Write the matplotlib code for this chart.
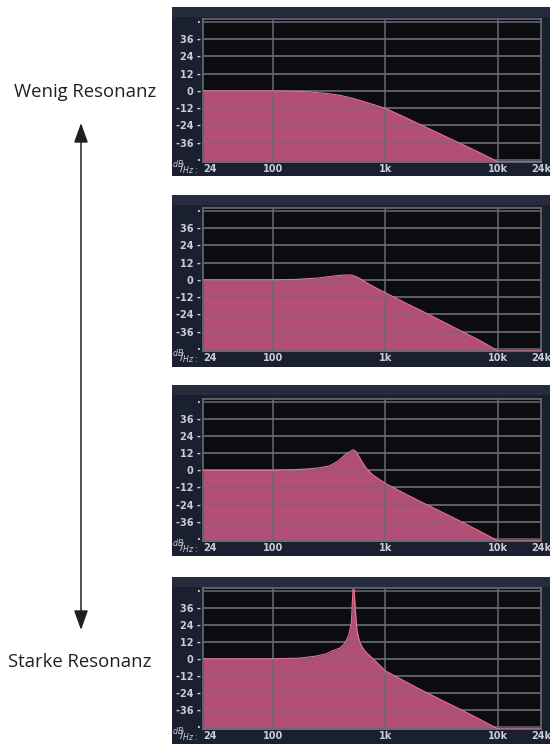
import matplotlib
matplotlib.use("Agg")
import matplotlib.pyplot as plt
import matplotlib.patches as mpatches
import numpy as np

W, H = 552, 744

# ---- data (Hz, dB) ----
freq_1 = [24, 100, 150, 200, 300, 400, 500, 600, 800, 1000, 1500, 2000, 3000, 5000, 7000, 10000, 24000]
gain_1 = [0, 0, -0.2, -0.6, -1.8, -3.2, -5.0, -6.8, -9.8, -12.2, -18.5, -23.2, -29.7, -37.9, -43.3, -49.5, -49.5]

freq_2 = [24, 100, 160, 200, 250, 300, 370, 430, 500, 550, 600, 700, 850, 1000, 1500, 2000, 3000, 5000, 7000, 10000, 24000]
gain_2 = [0, 0, 0.3, 0.8, 1.2, 2.0, 2.9, 3.4, 3.3, 2.2, 0.6, -2.6, -6.2, -9.0, -16.0, -20.8, -27.8, -36.7, -42.5, -49.5, -49.5]

freq_3 = [24, 100, 141, 200, 260, 320, 379, 433, 498, 515, 550, 609, 675, 770, 1000, 1500, 2000, 3000, 5000, 7000, 10000, 24000]
gain_3 = [0, 0, 0.4, 0.9, 1.8, 3.2, 6.5, 10.6, 13.8, 14.5, 13.0, 6.9, 1.4, -3.2, -9.2, -16.5, -21.5, -28.3, -37.0, -43.0, -49.5, -49.5]

freq_4 = [24, 100, 140, 173, 244, 300, 340, 392, 430, 449, 470, 482, 498, 507, 515, 527, 535, 543, 558, 589, 630, 675, 740, 825,
          1000, 1500, 2000, 3000, 5000, 7000, 10000, 24000]
gain_4 = [0, 0, 0.3, 0.5, 2.0, 3.6, 5.8, 7.5, 10.5, 13.0, 16.5, 20.0, 26.0, 39.0, 49.0, 49.0, 40.0, 32.0, 20.0, 12.0, 7.5, 4.5, 1.5, -2.0,
          -8.5, -16.0, -21.3, -28.3, -37.0, -43.0, -49.5, -49.5]

y_ticks = [48, 36, 24, 12, 0, -12, -24, -36, -48]
y_labels = ["·", "36 -", "24 -", "12 -", "0 -", "-12 -", "-24 -", "-36 -", "·"]
x_ticks = [24, 100, 1000, 10000, 24000]
x_labels = ["24", "100", "1k", "10k", "24k"]

curves = [(freq_1, gain_1), (freq_2, gain_2), (freq_3, gain_3), (freq_4, gain_4)]

# panel geometry in pixels: outer top, plot top, plot bottom, outer bottom
panels = [(7, 19, 162, 176), (195, 208, 351, 367), (385, 399, 541, 556), (577, 588, 729, 746)]

OUTER = "#1b2030"
BAND = "#272c3c"
PLOT_BG = "#0b0b10"
GRID = "#676b74"
FILL = "#b24f76"
EDGE = "#e8728f"
TXT = "#c9cdd5"

fig = plt.figure(figsize=(W / 100, H / 100), dpi=100)
fig.patch.set_facecolor("white")

def box(x0, y0, x1, y1):
    return [x0 / W, 1 - y1 / H, (x1 - x0) / W, (y1 - y0) / H]

for (f, g), (ot, pt, pb, ob) in zip(curves, panels):
    # outer dark frame and lighter band on top
    fig.add_artist(mpatches.Rectangle((172 / W, 1 - ob / H), (550 - 172) / W, (ob - ot) / H,
                                      transform=fig.transFigure, facecolor=OUTER, edgecolor="none",
                                      zorder=-2))
    fig.add_artist(mpatches.Rectangle((172 / W, 1 - (ot + 10) / H), (550 - 172) / W, 10 / H,
                                      transform=fig.transFigure, facecolor=BAND, edgecolor="none",
                                      zorder=-1))

    ax = fig.add_axes(box(203, pt, 541, pb))
    ax.set_facecolor(PLOT_BG)
    ax.set_xscale("log")
    ax.set_xlim(24, 24000)
    ax.set_ylim(-49.5, 50)
    ax.fill_between(f, g, -60, color=FILL, linewidth=0, zorder=2)
    ax.plot(f, g, color=EDGE, linewidth=0.8, zorder=3)

    for yv in y_ticks:
        ax.axhline(yv, color=GRID, linewidth=1.1, zorder=1)
    for xv in [100, 1000, 10000]:
        ax.axvline(xv, color=GRID, linewidth=1.1, zorder=2.5)
    for yv in y_ticks[1:-1]:
        ax.axhline(yv, color=GRID, linewidth=1.1, alpha=0.55, zorder=2.5)

    for sp in ax.spines.values():
        sp.set_color(GRID)
        sp.set_linewidth(1.2)

    ax.set_yticks(y_ticks)
    ax.set_yticklabels(y_labels)
    ax.set_xticks(x_ticks)
    ax.set_xticklabels(x_labels)
    ax.minorticks_off()
    ax.tick_params(length=0, colors=TXT, labelsize=7, pad=1.5)
    for lab in ax.get_xticklabels() + ax.get_yticklabels():
        lab.set_fontweight("bold")
    ax.get_xticklabels()[0].set_horizontalalignment("left")

    fig.text(185 / W, 1 - (pb + 6) / H, r"$^{dB}\!\!/_{Hz:}$", color=TXT, fontsize=8,
             ha="center", va="center")

# side labels and arrow
fig.text(85.5 / W, 1 - 97 / H, "Wenig Resonanz", fontsize=13.3, family="Open Sans",
         color="#231f20", ha="center", va="baseline")
fig.text(80 / W, 1 - 667 / H, "Starke Resonanz", fontsize=13.3, family="Open Sans",
         color="#231f20", ha="center", va="baseline")

arrow = mpatches.FancyArrowPatch((81 / W, 1 - 630 / H), (81 / W, 1 - 123 / H),
                                 transform=fig.transFigure,
                                 arrowstyle="<|-|>,head_length=12,head_width=4.3",
                                 mutation_scale=1, color="#231f20", linewidth=1.1,
                                 shrinkA=0, shrinkB=0)
fig.add_artist(arrow)

fig.savefig("out.png", dpi=100, facecolor="white")
